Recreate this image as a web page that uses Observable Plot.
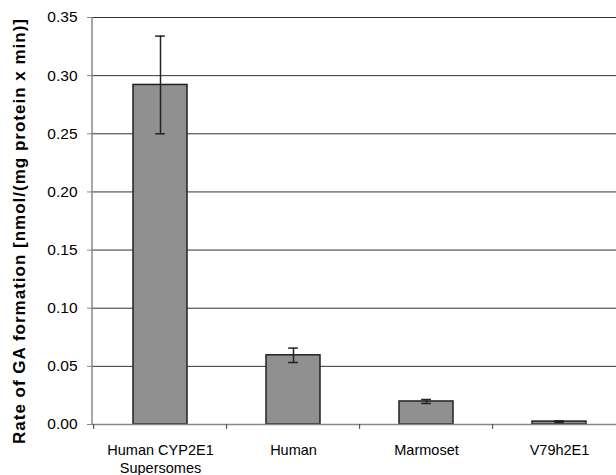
<!DOCTYPE html>
<html>
<head>
<meta charset="utf-8">
<script src="https://cdn.jsdelivr.net/npm/d3@7"></script>
<script src="https://cdn.jsdelivr.net/npm/@observablehq/plot@0.6"></script>
<style>
  html, body { margin: 0; padding: 0; background: #fff; }
  svg { font-family: "Liberation Sans", Arial, sans-serif; }
</style>
</head>
<body>
<div id="chart"></div>
<script>
const categories = ["Human CYP2E1 Supersomes", "Human", "Marmoset", "V79h2E1"];
const tickLabels = ["Human CYP2E1\nSupersomes", "Human", "Marmoset", "V79h2E1"];
const rates = [0.292, 0.0595, 0.0198, 0.0025];
const errors = [0.042, 0.0062, 0.0017, 0.0007];
const yTicks = [0, 0.05, 0.10, 0.15, 0.20, 0.25, 0.30, 0.35];
const yLabel = "Rate of GA formation [nmol/(mg protein x min)]";

const data = categories.map((c, i) => ({cat: c, rate: rates[i], err: errors[i]}));

const W = 616, H = 475;
const left = 92, right = 627;
const step = (right - left) / categories.length;

const chart = Plot.plot({
  width: W,
  height: H,
  marginLeft: left,
  marginRight: 0,
  marginTop: 17,
  marginBottom: 51,
  style: {fontFamily: "Liberation Sans, Arial, sans-serif", fontSize: "14px", color: "black", background: "white"},
  x: {domain: categories, range: [left, right], paddingInner: 0.594, paddingOuter: 0.297, label: null},
  y: {domain: [0, 0.35], label: null},
  marks: [
    Plot.ruleY(yTicks.filter(d => d > 0), {stroke: "#333", strokeWidth: 1}),
    Plot.barY(data, {x: "cat", y: "rate", fill: "#909090", stroke: "#222", strokeWidth: 1.5}),
    Plot.ruleY([0], {stroke: "#888", strokeWidth: 1.5}),
    Plot.ruleX(data, {x: "cat", y1: d => d.rate - d.err, y2: d => d.rate + d.err, stroke: "#222", strokeWidth: 1.5}),
    Plot.tickY(data, {x: "cat", y: d => d.rate + d.err, stroke: "#222", strokeWidth: 1.5, inset: (step * 0.406 - 10) / 2}),
    Plot.tickY(data, {x: "cat", y: d => d.rate - d.err, stroke: "#222", strokeWidth: 1.5, inset: (step * 0.406 - 10) / 2}),
    (index, scales, values, dims) => {
      const ln = document.createElementNS("http://www.w3.org/2000/svg", "line");
      ln.setAttribute("x1", dims.marginLeft);
      ln.setAttribute("x2", dims.marginLeft);
      ln.setAttribute("y1", dims.marginTop);
      ln.setAttribute("y2", dims.height - dims.marginBottom);
      ln.setAttribute("stroke", "#888");
      ln.setAttribute("stroke-width", 1.5);
      return ln;
    },
    Plot.axisY({ticks: yTicks, tickFormat: d => d.toFixed(2), tickSize: 5, tickPadding: 10, stroke: "#888", fill: "black", fontSize: 15.5, label: null}),
    Plot.axisX({tickSize: 5, dx: -step / 2, tickFormat: () => "", stroke: "#444", label: null}),
    Plot.axisX({tickSize: 0, tickPadding: 18, tickFormat: (d, i) => tickLabels[categories.indexOf(d)], fill: "black", fontSize: 14.5, label: null, lineHeight: 1.22}),
    Plot.text([yLabel], {frameAnchor: "left", textAnchor: "middle", rotate: -90, dx: -73, dy: 10, fontWeight: "bold", fontSize: 17, fill: "black"})
  ]
});
d3.select(chart).selectAll("text").filter(function() { return this.textContent === yLabel; }).attr("letter-spacing", "1px");
document.getElementById("chart").appendChild(chart);
</script>
</body>
</html>
